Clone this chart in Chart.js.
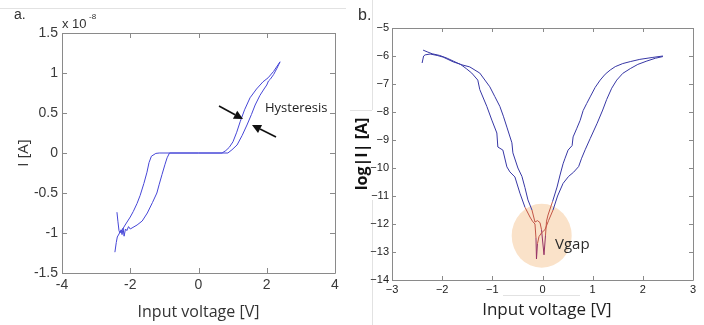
<!DOCTYPE html>
<html>
<head>
<meta charset="utf-8">
<script src="https://cdn.jsdelivr.net/npm/chart.js@4.4.1/dist/chart.umd.min.js"></script>
<style>
  html, body { margin: 0; padding: 0; background: #fff; }
  #wrap { position: relative; width: 704px; height: 325px; overflow: hidden; background: #fff; }
  #boxA { position: absolute; left: 0; top: 0; width: 350px; height: 325px; }
  #boxB { position: absolute; left: 350px; top: 0; width: 354px; height: 325px; }
  .art { position: absolute; background: #e2e2e2; }
</style>
</head>
<body>
<div id="wrap">
  <div class="art" style="left:0;top:8px;width:346px;height:1px;"></div>
  <div class="art" style="left:372px;top:0;width:1px;height:110px;"></div>
  <div class="art" style="left:350px;top:110px;width:22px;height:1px;"></div>
  <div class="art" style="left:372px;top:200px;width:1px;height:125px;"></div>
  <div class="art" style="left:503px;top:295px;width:77px;height:1px;"></div>
  <div id="boxA"><canvas id="chartA" width="350" height="325"></canvas></div>
  <div id="boxB"><canvas id="chartB" width="354" height="325"></canvas></div>
</div>
<script>
// ---------- Panel a: linear I-V (current in units of 1e-8 A) ----------
const linXTicks = [-4, -2, 0, 2, 4];
const linYTicks = [-1.5, -1, -0.5, 0, 0.5, 1, 1.5];

const outerV = [-2.45,-2.41,-2.38,-2.30,-2.22,-2.15,-2.00,-1.91,-1.80,-1.71,-1.60,-1.51,-1.45,-1.38,-1.25,-1.15,0.00,0.86,0.98,1.13,1.28,1.42,1.55,1.66,1.80,1.92,2.00,2.05,2.10,2.20,2.30,2.39];
const outerI = [-1.24,-1.12,-1.05,-0.99,-0.95,-0.90,-0.80,-0.73,-0.63,-0.53,-0.38,-0.24,-0.12,-0.04,-0.005,0.00,0.00,0.00,0.04,0.10,0.22,0.35,0.48,0.60,0.72,0.80,0.85,0.90,0.92,0.98,1.06,1.14];

const innerV = [-2.39,-2.36,-2.33,-2.30,-2.27,-2.24,-2.21,-2.18,-2.14,-2.10,-2.05,-2.00,-1.92,-1.80,-1.65,-1.50,-1.35,-1.22,-1.15,-1.07,-0.98,-0.92,-0.85,0.00,0.69,0.80,0.90,1.01,1.12,1.22,1.35,1.51,1.70,1.89,2.04,2.20,2.39];
const innerI = [-0.74,-0.86,-0.97,-1.00,-0.96,-1.02,-0.94,-1.04,-0.95,-0.97,-0.92,-0.95,-0.93,-0.90,-0.85,-0.75,-0.62,-0.50,-0.39,-0.27,-0.14,-0.06,0.00,0.00,0.00,0.03,0.07,0.14,0.26,0.39,0.54,0.69,0.80,0.89,0.94,1.02,1.14];

// ---------- Panel b: log|I| vs V ----------
const logXTicks = [-3, -2, -1, 0, 1, 2, 3];
const logYTicks = [-14, -13, -12, -11, -10, -9, -8, -7, -6, -5];

const sweepAV = [-2.40,-2.37,-2.34,-2.24,-2.10,-1.98,-1.78,-1.64,-1.52,-1.41,-1.29,-1.25,-1.18,-1.11,-1.01,-0.91,-0.89,-0.79,-0.71,-0.65,-0.55,-0.45,-0.35,-0.25,-0.20,-0.15,-0.13,-0.12,-0.10,-0.07,-0.02,0.05,0.12,0.21,0.30,0.41,0.52,0.62,0.72,0.78,0.85,0.95,1.09,1.20,1.28,1.38,1.48,1.60,1.75,1.90,2.08,2.25,2.40];
const sweepAY = [-6.25,-6.00,-5.96,-5.93,-5.98,-6.04,-6.21,-6.29,-6.45,-6.61,-6.86,-7.20,-7.50,-7.80,-8.29,-8.75,-9.25,-9.36,-9.96,-10.14,-10.32,-10.90,-11.40,-11.75,-11.90,-12.00,-12.50,-13.25,-12.70,-12.45,-12.32,-12.20,-11.88,-11.50,-11.00,-10.55,-10.30,-10.15,-9.95,-9.65,-9.35,-8.95,-8.40,-7.93,-7.55,-7.15,-6.86,-6.62,-6.45,-6.30,-6.18,-6.08,-6.02];

const sweepBV = [-2.38,-2.30,-2.20,-2.05,-1.90,-1.78,-1.64,-1.45,-1.25,-1.05,-0.95,-0.85,-0.78,-0.71,-0.61,-0.59,-0.49,-0.41,-0.35,-0.29,-0.21,-0.15,-0.10,-0.05,-0.02,0.03,0.06,0.08,0.11,0.20,0.29,0.35,0.41,0.45,0.51,0.59,0.61,0.68,0.75,0.81,0.88,0.95,1.05,1.15,1.25,1.35,1.45,1.60,1.75,1.94,2.20,2.40];
const sweepBY = [-5.79,-5.85,-5.92,-5.98,-6.08,-6.18,-6.30,-6.39,-6.61,-7.10,-7.45,-7.80,-8.15,-8.54,-9.10,-9.46,-10.00,-10.30,-10.70,-11.14,-11.50,-11.93,-11.88,-11.95,-12.20,-13.10,-12.40,-11.90,-11.68,-11.20,-10.68,-10.25,-9.85,-9.65,-9.36,-9.20,-8.89,-8.60,-8.30,-7.95,-7.70,-7.46,-7.12,-6.86,-6.65,-6.50,-6.38,-6.27,-6.20,-6.12,-6.05,-6.00];

const toPoints = (xs, ys) => xs.map((x, i) => ({ x: x, y: ys[i] }));

const TICK_FONT_A = { family: 'Liberation Sans, Arial, sans-serif', size: 14 };
const TICK_FONT_B = { family: 'Liberation Sans, Arial, sans-serif', size: 11 };
const TITLE_FAMILY = 'Open Sans, Noto Sans, sans-serif';

function fixedTicks(values) {
  return function (scale) { scale.ticks = values.map(v => ({ value: v })); };
}
function fixWidth(w) { return function (scale) { scale.width = w; }; }
function fixHeight(h) { return function (scale) { scale.height = h; }; }

// frame with inward ticks on all four sides
function framePlugin(id, color, len, xt, yt) {
  return {
    id: id,
    afterDatasetsDraw(chart) {
      const { ctx, chartArea: a, scales: { x, y } } = chart;
      ctx.save();
      ctx.strokeStyle = color;
      ctx.lineWidth = 1;
      ctx.beginPath();
      ctx.rect(Math.round(a.left) + 0.5, Math.round(a.top) + 0.5, Math.round(a.right - a.left), Math.round(a.bottom - a.top));
      xt.forEach(v => {
        const px = Math.round(x.getPixelForValue(v)) + 0.5;
        ctx.moveTo(px, a.bottom); ctx.lineTo(px, a.bottom - len);
        ctx.moveTo(px, a.top); ctx.lineTo(px, a.top + len);
      });
      yt.forEach(v => {
        const py = Math.round(y.getPixelForValue(v)) + 0.5;
        ctx.moveTo(a.left, py); ctx.lineTo(a.left + len, py);
        ctx.moveTo(a.right, py); ctx.lineTo(a.right - len, py);
      });
      ctx.stroke();
      ctx.restore();
    }
  };
}

function arrow(ctx, x0, y0, x1, y1) {
  const ang = Math.atan2(y1 - y0, x1 - x0);
  const hl = 9, hw = 4.5;
  const bx = x1 - hl * Math.cos(ang), by = y1 - hl * Math.sin(ang);
  ctx.beginPath();
  ctx.moveTo(x0, y0); ctx.lineTo(bx, by);
  ctx.stroke();
  ctx.beginPath();
  ctx.moveTo(x1, y1);
  ctx.lineTo(bx + hw * Math.sin(ang), by - hw * Math.cos(ang));
  ctx.lineTo(bx - hw * Math.sin(ang), by + hw * Math.cos(ang));
  ctx.closePath();
  ctx.fill();
}

const annotA = {
  id: 'annotA',
  afterDraw(chart) {
    const { ctx } = chart;
    ctx.save();
    ctx.fillStyle = '#333';
    ctx.textBaseline = 'alphabetic';
    ctx.font = '14px "Liberation Sans", Arial, sans-serif';
    ctx.fillText('a.', 14, 19);
    ctx.font = '13px "Liberation Sans", Arial, sans-serif';
    ctx.fillText('x 10', 62, 28);
    ctx.font = '8px "Liberation Sans", Arial, sans-serif';
    ctx.fillText('-8', 89, 19);
    ctx.fillStyle = '#222';
    ctx.font = '13px "Open Sans", "Noto Sans", sans-serif';
    ctx.fillText('Hysteresis', 265, 112);
    ctx.strokeStyle = '#111';
    ctx.fillStyle = '#111';
    ctx.lineWidth = 1.6;
    arrow(ctx, 219, 106, 243, 119);
    arrow(ctx, 276, 137, 252, 125);
    ctx.restore();
  }
};

const CIRCLE = { x: -0.016, y: -12.42, rx: 30, ry: 32 };

function insideCircle(chart, px, py) {
  const cx = chart.scales.x.getPixelForValue(CIRCLE.x);
  const cy = chart.scales.y.getPixelForValue(CIRCLE.y);
  const dx = (px - cx) / CIRCLE.rx, dy = (py - cy) / CIRCLE.ry;
  return dx * dx + dy * dy < 1;
}

const annotB = {
  id: 'annotB',
  beforeDatasetsDraw(chart) {
    const { ctx } = chart;
    const cx = chart.scales.x.getPixelForValue(CIRCLE.x);
    const cy = chart.scales.y.getPixelForValue(CIRCLE.y);
    ctx.save();
    ctx.fillStyle = 'rgb(250,226,201)';
    ctx.beginPath();
    ctx.ellipse(cx, cy, CIRCLE.rx, CIRCLE.ry, 0, 0, Math.PI * 2);
    ctx.fill();
    ctx.restore();
  },
  afterDraw(chart) {
    const { ctx } = chart;
    ctx.save();
    ctx.fillStyle = '#333';
    ctx.font = '16px "Liberation Sans", Arial, sans-serif';
    ctx.fillText('b.', 8, 20);
    ctx.fillStyle = '#2a2a2a';
    ctx.font = '15px "Open Sans", "Noto Sans", sans-serif';
    ctx.fillText('Vgap', 205, 249);
    ctx.restore();
  }
};

const lineA = (pts) => ({
  data: pts, showLine: true, pointRadius: 0, borderWidth: 1,
  borderColor: 'rgb(70,70,215)', tension: 0, fill: false
});

new Chart(document.getElementById('chartA'), {
  type: 'scatter',
  data: { datasets: [lineA(toPoints(outerV, outerI)), lineA(toPoints(innerV, innerI))] },
  options: {
    responsive: false, animation: false, events: [],
    layout: { padding: { left: 0, right: 15, top: 33, bottom: 0 } },
    plugins: { legend: { display: false }, tooltip: { enabled: false } },
    scales: {
      x: {
        type: 'linear', min: -4, max: 4,
        afterBuildTicks: fixedTicks(linXTicks), afterFit: fixHeight(52),
        grid: { display: false, drawTicks: false }, border: { display: false },
        ticks: { font: TICK_FONT_A, color: '#3a3a3a', padding: 4, maxRotation: 0, callback: v => String(v) },
        title: { display: true, text: 'Input voltage [V]', color: '#333', font: { family: TITLE_FAMILY, size: 16 }, padding: { top: 0, bottom: 3 } }
      },
      y: {
        type: 'linear', min: -1.5, max: 1.5,
        afterBuildTicks: fixedTicks(linYTicks), afterFit: fixWidth(62),
        grid: { display: false, drawTicks: false }, border: { display: false },
        ticks: { font: TICK_FONT_A, color: '#3a3a3a', padding: 4, callback: v => String(v) },
        title: { display: true, text: 'I [A]', color: '#333', font: { family: TITLE_FAMILY, size: 15 }, padding: { top: 15, bottom: 0 } }
      }
    }
  },
  plugins: [framePlugin('frameA', '#8a8a8a', 5, linXTicks, linYTicks), annotA]
});

const lineB = (pts) => ({
  data: pts, showLine: true, pointRadius: 0, borderWidth: 1,
  borderColor: 'rgb(55,55,165)', tension: 0, fill: false,
  segment: {
    borderColor: (c) => {
      const mx = (c.p0.x + c.p1.x) / 2, my = (c.p0.y + c.p1.y) / 2;
      if (!insideCircle(c.chart, mx, my)) return undefined;
      const yv = c.chart.scales.y.getValueForPixel(my);
      return yv < -12.6 ? 'rgb(150,50,100)' : 'rgb(195,85,70)';
    }
  }
});

new Chart(document.getElementById('chartB'), {
  type: 'scatter',
  data: { datasets: [lineB(toPoints(sweepAV, sweepAY)), lineB(toPoints(sweepBV, sweepBY))] },
  options: {
    responsive: false, animation: false, events: [],
    layout: { padding: { left: 0, right: 11, top: 28, bottom: 0 } },
    plugins: { legend: { display: false }, tooltip: { enabled: false } },
    scales: {
      x: {
        type: 'linear', min: -3, max: 3,
        afterBuildTicks: fixedTicks(logXTicks), afterFit: fixHeight(45),
        grid: { display: false, drawTicks: false }, border: { display: false },
        ticks: { font: TICK_FONT_B, color: '#222', padding: 3, maxRotation: 0, callback: v => v < 0 ? '\u2212' + Math.abs(v) : String(v) },
        title: { display: true, text: '  Input voltage [V]', color: '#222', font: { family: TITLE_FAMILY, size: 17 }, padding: { top: 0, bottom: 5 } }
      },
      y: {
        type: 'linear', min: -14, max: -5,
        afterBuildTicks: fixedTicks(logYTicks), afterFit: fixWidth(42),
        grid: { display: false, drawTicks: false }, border: { display: false },
        ticks: { font: TICK_FONT_B, color: '#222', padding: 3, callback: v => v < 0 ? '\u2212' + Math.abs(v) : String(v) },
        title: { display: true, text: 'log|I| [A]', color: '#111', font: { family: TITLE_FAMILY, size: 16, weight: 'bold' }, padding: { top: 3, bottom: 0 } }
      }
    }
  },
  plugins: [framePlugin('frameB', '#8a8a8a', 4, logXTicks, logYTicks), annotB]
});
</script>
</body>
</html>
